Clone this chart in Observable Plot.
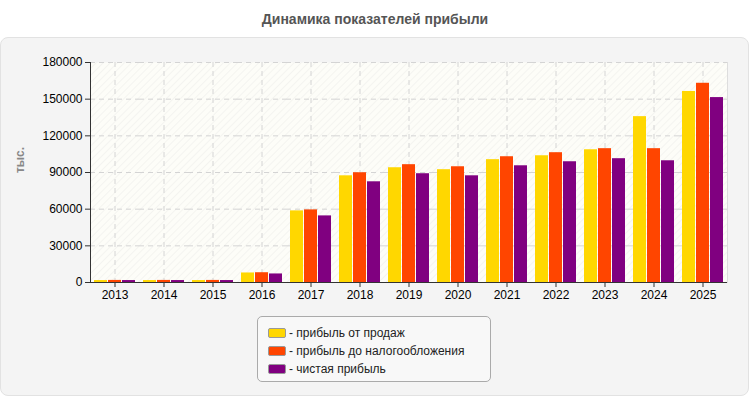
<!DOCTYPE html>
<html><head><meta charset="utf-8">
<script src="https://cdn.jsdelivr.net/npm/d3@7"></script>
<script src="https://cdn.jsdelivr.net/npm/@observablehq/plot@0.6"></script>
<style>
body{margin:0;background:#fff;font-family:"Liberation Sans",Arial,sans-serif;}
#wrap{position:relative;width:750px;height:400px;overflow:hidden;}
#title{position:absolute;top:11px;left:0;width:750px;text-align:center;font-weight:bold;font-size:14px;color:#555;}
#panel{position:absolute;top:37px;left:0;width:747px;height:357px;background:#f4f4f4;border:1px solid #e2e2e2;border-radius:8px;}
#chart{position:absolute;top:37px;left:0;}
#ylabel{position:absolute;left:20px;top:160px;transform:translate(-50%,-50%) rotate(-90deg);font-size:12px;font-weight:bold;color:#888;white-space:nowrap;}
#legend{position:absolute;left:257px;top:316px;width:232px;height:64px;border:1px solid #aaa;border-radius:5px;background:#f8f8f8;box-sizing:content-box;}
.row{position:absolute;left:10px;height:16px;font-size:12px;color:#222;white-space:nowrap;line-height:16px;}
.sw{display:inline-block;width:16px;height:8px;border:1px solid #999;border-radius:2px;vertical-align:middle;margin-right:3px;position:relative;top:-1px;}
</style></head>
<body>
<div id="wrap">
  <div id="title">Динамика показателей прибыли</div>
  <div id="panel"></div>
  <div id="chart"></div>
  <div id="ylabel">тыс.</div>
  <div id="legend"></div>
</div>
<script>
const years = ["2013","2014","2015","2016","2017","2018","2019","2020","2021","2022","2023","2024","2025"];
const series = ["прибыль от продаж","прибыль до налогообложения","чистая прибыль"];
const sales  = [1600, 1600, 1600, 7800, 58600, 87300, 93900, 92300, 100500, 103700, 108600, 135700, 156300];
const preTax = [1700, 1700, 1700, 8000, 59400, 89800, 96400, 94700, 102900, 106200, 109500, 109500, 163000];
const net    = [1600, 1600, 1600, 7000, 54500, 82400, 89000, 87300, 95500, 98800, 101300, 99600, 151300];
const colors = ["#FFD700","#FF4500","#800080"];
const yTicks = [0, 30000, 60000, 90000, 120000, 150000, 180000];

const values = [sales, preTax, net];
const data = [];
years.forEach((yr, i) => series.forEach((s, k) => data.push({year: yr, series: s, value: values[k][i]})));

const chart = Plot.plot({
  width: 750, height: 270,
  marginTop: 25, marginBottom: 25, marginLeft: 86, marginRight: 19,
  style: {background: "transparent", fontFamily: "'Liberation Sans', Arial, sans-serif", fontSize: "12px", color: "#000"},
  fx: {domain: years, padding: 0, label: null, axis: null},
  x: {domain: series, axis: null, paddingInner: 0.1, paddingOuter: 0.27},
  y: {domain: [0, 180000], label: null, axis: null},
  color: {domain: series, range: colors},
  marks: [
    Plot.frame({fill: "url(#hatch)", facet: "super"}),
    Plot.gridY(yTicks, {stroke: "#d4d4d4", strokeOpacity: 1, strokeDasharray: "5,4"}),
    Plot.gridX([series[1]], {stroke: "#d4d4d4", strokeOpacity: 1, strokeDasharray: "5,4"}),
    Plot.barY(data, {fx: "year", x: "series", y: "value", fill: "series"}),
    Plot.axisY(yTicks, {tickSize: 5, tickPadding: 3, tickFormat: "d", fill: "#000", stroke: "#333", fontSize: 12}),
    Plot.axisFx({anchor: "bottom", tickSize: 5, tickPadding: 3, fill: "#000", stroke: "#333", fontSize: 12}),
    Plot.frame({anchor: "left", stroke: "#333", facet: "super"}),
    Plot.frame({anchor: "bottom", stroke: "#333", facet: "super"}),
    Plot.frame({anchor: "right", stroke: "#ddd", facet: "super"})
  ]
});
d3.select(chart).insert("defs", ":first-child").html(
  '<pattern id="hatch" width="5" height="5" patternUnits="userSpaceOnUse" patternTransform="rotate(45)">' +
  '<rect width="5" height="5" fill="#fdfdf8"></rect>' +
  '<line x1="0" y1="0" x2="0" y2="5" stroke="#f1f1ee" stroke-width="1.5"></line></pattern>');
document.getElementById("chart").appendChild(chart);

const legend = document.getElementById("legend");
series.forEach((s, k) => {
  const row = document.createElement("div");
  row.className = "row";
  row.style.top = (8 + k * 18) + "px";
  row.innerHTML = '<span class="sw" style="background:' + colors[k] + '"></span>- ' + s;
  legend.appendChild(row);
});
</script>
</body></html>
